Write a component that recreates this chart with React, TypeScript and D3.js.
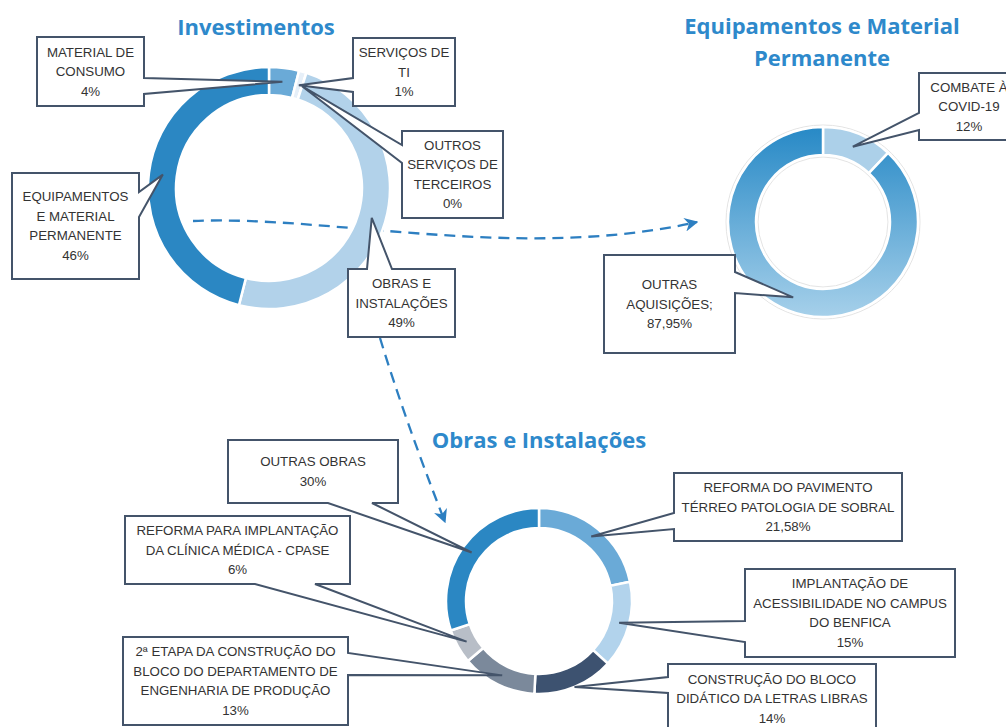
import React, { useEffect, useRef } from 'react';
import * as d3 from 'd3';

// Investimentos
const invNames = [
  ["MATERIAL DE", "CONSUMO"],
  ["SERVIÇOS DE", "TI"],
  ["OUTROS", "SERVIÇOS DE", "TERCEIROS"],
  ["OBRAS E", "INSTALAÇÕES"],
  ["EQUIPAMENTOS", "E MATERIAL", "PERMANENTE"],
];
const invValues = [4, 1, 0, 49, 46];
const invColors = ["#6aaad7", "#e6eff8", "#e6eff8", "#b2d2ea", "#2b87c3"];

// Equipamentos e Material Permanente
const eqNames = [["COMBATE À", "COVID-19"], ["OUTRAS", "AQUISIÇÕES;"]];
const eqValues = [12, 87.95];
const eqColors = ["#acd0e9", "url(#eq-grad)"];

// Obras e Instalações
const obNames = [
  ["REFORMA DO PAVIMENTO", "TÉRREO PATOLOGIA DE SOBRAL"],
  ["IMPLANTAÇÃO DE", "ACESSIBILIDADE NO CAMPUS", "DO BENFICA"],
  ["CONSTRUÇÃO DO BLOCO", "DIDÁTICO DA LETRAS LIBRAS"],
  ["2ª ETAPA DA CONSTRUÇÃO DO", "BLOCO DO DEPARTAMENTO DE", "ENGENHARIA DE PRODUÇÃO"],
  ["REFORMA PARA IMPLANTAÇÃO", "DA CLÍNICA MÉDICA - CPASE"],
  ["OUTRAS OBRAS"],
];
const obValues = [21.58, 15, 14, 13, 6, 30];
const obColors = ["#6aaad7", "#b2d3ec", "#3d5270", "#7b899b", "#b8bec7", "#2b87c3"];

// layout of the donuts and callout boxes
const charts = [
  {
    title: ["Investimentos"], tx: 256, ty: 35,
    cx: 269, cy: 188, r0: 93, r1: 121,
    names: invNames, values: invValues, colors: invColors,
    boxes: [
      { x: 37, y: 37, w: 107, h: 69, side: "right", a1: 78, a2: 94 },
      { x: 353, y: 38, w: 102, h: 68, side: "left", a1: 78, a2: 92 },
      { x: 402, y: 131, w: 101, h: 87, side: "left", a1: 145, a2: 163 },
      { x: 348, y: 269, w: 107, h: 68, side: "top", a1: 367, a2: 392 },
      { x: 12, y: 173, w: 127, h: 106, side: "right", a1: 192, a2: 217 },
    ],
  },
  {
    title: ["Equipamentos e Material", "Permanente"], tx: 822, ty: 34,
    cx: 823, cy: 222, r0: 67, r1: 95, ring: true,
    names: eqNames, values: eqValues, colors: eqColors,
    boxes: [
      { x: 919, y: 73, w: 100, h: 67, side: "left", a1: 113, a2: 130 },
      { x: 604, y: 255, w: 131, h: 98, side: "right", a1: 272, a2: 293 },
    ],
  },
  {
    title: ["Obras e Instalações"], tx: 539, ty: 448,
    cx: 539, cy: 601, r0: 73, r1: 93,
    names: obNames, values: obValues, colors: obColors,
    boxes: [
      { x: 674, y: 473, w: 228, h: 68, side: "left", a1: 513, a2: 529 },
      { x: 745, y: 569, w: 210, h: 88, side: "left", a1: 621, a2: 642 },
      { x: 668, y: 664, w: 208, h: 69, side: "left", a1: 677, a2: 693, tr: 1 },
      { x: 123, y: 637, w: 225, h: 88, side: "right", a1: 653, a2: 675 },
      { x: 125, y: 516, w: 225, h: 68, side: "bottom", a1: 255, a2: 315 },
      { x: 228, y: 440, w: 170, h: 63, side: "bottom", a1: 328, a2: 372 },
    ],
  },
];

const fmtPct = (v) => v.toLocaleString("pt-BR", { maximumFractionDigits: 2 }) + "%";

// box outline with the wedge going out to the tip
function calloutPath(b, tip) {
  const { x, y, w, h, side, a1, a2 } = b;
  const t = `${tip[0]},${tip[1]}`;
  let p = `M${x},${y}`;
  if (side === "top") p += `L${a1},${y}L${t}L${a2},${y}`;
  p += `L${x + w},${y}`;
  if (side === "right") p += `L${x + w},${a1}L${t}L${x + w},${a2}`;
  p += `L${x + w},${y + h}`;
  if (side === "bottom") p += `L${a2},${y + h}L${t}L${a1},${y + h}`;
  p += `L${x},${y + h}`;
  if (side === "left") p += `L${x},${a2}L${t}L${x},${a1}`;
  return p + "Z";
}

const App = () => {
  const svgRef = useRef();

  useEffect(() => {
    const svg = d3.select(svgRef.current);
    svg.selectAll("*").remove();

    const defs = svg.append("defs");

    const marker = defs.append("marker")
      .attr("id", "arrow")
      .attr("viewBox", "0 0 10 10")
      .attr("refX", 9).attr("refY", 5)
      .attr("markerWidth", 6).attr("markerHeight", 6)
      .attr("orient", "auto")
      .attr("markerUnits", "strokeWidth");
    marker.append("path").attr("d", "M0,0L10,5L0,10L3,5Z").attr("fill", "#2d7fc1");

    // dashed arrows between the charts
    const arrows = [
      "M193,221C330,215 520,262 697,222",
      "M380,338Q405,420 445,522",
    ];
    svg.selectAll(".link")
      .data(arrows)
      .enter()
      .append("path")
      .attr("d", d => d)
      .attr("fill", "none")
      .attr("stroke", "#2d7fc1")
      .attr("stroke-width", 2.3)
      .attr("stroke-dasharray", "11 7")
      .attr("marker-end", "url(#arrow)");

    charts.forEach(c => {
      const g = svg.append("g");

      g.selectAll(".title")
        .data(c.title)
        .enter()
        .append("text")
        .attr("x", c.tx)
        .attr("y", (d, i) => c.ty + i * 32)
        .attr("text-anchor", "middle")
        .style("font-family", "'Open Sans', sans-serif")
        .style("font-size", "22px")
        .style("font-weight", "bold")
        .style("fill", "#2e89cb")
        .text(d => d);

      const pie = d3.pie().sort(null).value(d => d);
      const arcs = pie(c.values);
      const arc = d3.arc().innerRadius(c.r0).outerRadius(c.r1);

      const ring = g.append("g").attr("transform", `translate(${c.cx},${c.cy})`);

      if (c.ring) {
        ring.append("circle").attr("r", c.r1 + 2).attr("fill", "none").attr("stroke", "#e4e4e4").attr("stroke-width", 1);
        ring.append("circle").attr("r", c.r0 - 2).attr("fill", "none").attr("stroke", "#e4e4e4").attr("stroke-width", 1);
        // vertical gradient in the ring's own coordinates
        const lg = defs.append("linearGradient")
          .attr("id", "eq-grad")
          .attr("gradientUnits", "userSpaceOnUse")
          .attr("x1", 0).attr("y1", -c.r1).attr("x2", 0).attr("y2", c.r1);
        lg.append("stop").attr("offset", "0%").attr("stop-color", "#2789c6");
        lg.append("stop").attr("offset", "100%").attr("stop-color", "#a6d0ea");
      }

      ring.selectAll(".slice")
        .data(arcs)
        .enter()
        .append("path")
        .attr("d", arc)
        .attr("fill", (d, i) => c.colors[i])
        .style("stroke", "white")
        .style("stroke-width", 2.5);

      // callouts
      arcs.forEach((a, i) => {
        const b = c.boxes[i];
        const frac = b.tr !== undefined ? b.tr : 0.5;
        const rr = c.r0 + (c.r1 - c.r0) * frac;
        const mid = (a.startAngle + a.endAngle) / 2;
        const tip = [c.cx + rr * Math.sin(mid), c.cy - rr * Math.cos(mid)];

        g.append("path")
          .attr("d", calloutPath(b, tip))
          .attr("fill", "white")
          .attr("stroke", "#44546a")
          .attr("stroke-width", 2)
          .attr("stroke-linejoin", "miter");

        const lines = [...c.names[i], fmtPct(c.values[i])];
        const n = lines.length;
        const bx = b.x + b.w / 2;
        const by = b.y + b.h / 2;
        g.selectAll(null)
          .data(lines)
          .enter()
          .append("text")
          .attr("x", bx)
          .attr("y", (d, k) => by + (k - (n - 1) / 2) * 19.5 + 4.5)
          .attr("text-anchor", "middle")
          .style("font-family", "'Liberation Sans', Arial, sans-serif")
          .style("font-size", "13.3px")
          .style("fill", "#333333")
          .text(d => d);
      });
    });
  }, []);

  return (
    <svg
      ref={svgRef}
      width={1006}
      height={727}
      style={{ position: 'absolute', left: 0, top: 0, background: 'white' }}
    />
  );
};

export default App;
